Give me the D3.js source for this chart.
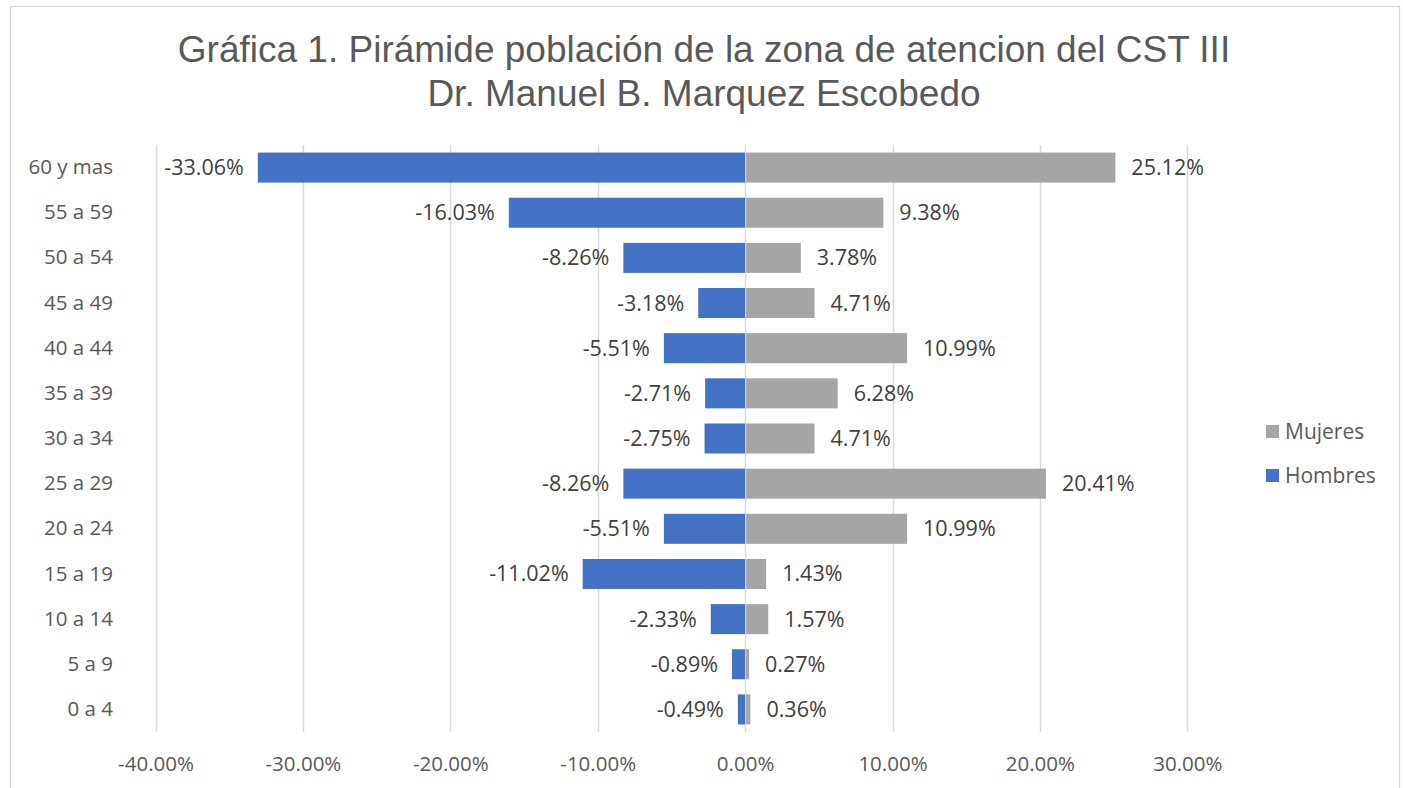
<!DOCTYPE html>
<html><head><meta charset="utf-8">
<script src="https://cdn.jsdelivr.net/npm/d3@7"></script>
<style>body{margin:0;background:#fff}svg{display:block}</style>
</head><body>
<script>
const categories = ["60 y mas","55 a 59","50 a 54","45 a 49","40 a 44","35 a 39","30 a 34","25 a 29","20 a 24","15 a 19","10 a 14","5 a 9","0 a 4"];
const hombres = [-33.06,-16.03,-8.26,-3.18,-5.51,-2.71,-2.75,-8.26,-5.51,-11.02,-2.33,-0.89,-0.49];
const mujeres = [25.12,9.38,3.78,4.71,10.99,6.28,4.71,20.41,10.99,1.43,1.57,0.27,0.36];
const xTicks = [-40,-30,-20,-10,0,10,20,30];
const titleLines = ["Gráfica 1. Pirámide población de la zona de atencion del CST III","Dr. Manuel B. Marquez Escobedo"];
const seriesNames = ["Mujeres","Hombres"];
const colors = {Hombres:"#4472C4", Mujeres:"#A5A5A5"};

const W=1403,H=788;
const svg=d3.select("body").append("svg").attr("width",W).attr("height",H);
svg.append("rect").attr("x",10.5).attr("y",6.5).attr("width",1389).attr("height",H+10)
  .attr("fill","#fff").attr("stroke","#d9d9d9").attr("stroke-width",1.3);

const x=d3.scaleLinear().domain([-40,30]).range([155.5,1187.3]);
const y=d3.scaleBand().domain(categories).range([145,732]).paddingInner(0.335).paddingOuter(0.1675);
const font="'Open Sans', sans-serif";
const txt="#595959";

svg.append("g").selectAll("text").data(titleLines).join("text")
  .attr("x",704).attr("y",(d,i)=>62+i*44).attr("text-anchor","middle")
  .attr("font-family","'Liberation Sans', Arial, sans-serif").attr("font-size",37).attr("fill",txt).text(d=>d);

// gridlines
svg.append("g").selectAll("line").data(xTicks).join("line")
  .attr("x1",d=>Math.round(x(d))+0.5).attr("x2",d=>Math.round(x(d))+0.5).attr("y1",145).attr("y2",732)
  .attr("stroke","#d9d9d9").attr("stroke-width",1.5);

// x axis labels
const xAxis=d3.axisBottom(x).tickValues(xTicks).tickSize(0).tickPadding(0).tickFormat(d=>d.toFixed(2)+"%");
const gx=svg.append("g").attr("transform","translate(0,756)").call(xAxis);
gx.select(".domain").remove();
gx.selectAll("text").attr("font-family",font).attr("font-size",20.5).attr("fill",txt).attr("dy","0.71em");

// y labels
const yAxis=d3.axisLeft(y).tickSize(0).tickPadding(0);
const gy=svg.append("g").attr("transform","translate(113,0)").call(yAxis);
gy.select(".domain").remove();
gy.selectAll("text").attr("font-family",font).attr("font-size",20.5).attr("fill",txt);

// bars
const rows=categories.map((c,i)=>({c,h:hombres[i],m:mujeres[i]}));
svg.append("g").selectAll("rect").data(rows).join("rect")
  .attr("x",d=>x(d.h)).attr("width",d=>x(0)-x(d.h)).attr("y",d=>y(d.c)).attr("height",y.bandwidth())
  .attr("fill",colors.Hombres);
svg.append("g").selectAll("rect").data(rows).join("rect")
  .attr("x",x(0)+1).attr("width",d=>x(d.m)-x(0)-1).attr("y",d=>y(d.c)).attr("height",y.bandwidth())
  .attr("fill",colors.Mujeres);

// labels
svg.append("g").selectAll("text").data(rows).join("text")
  .attr("x",d=>x(d.h)-14).attr("y",d=>y(d.c)+y.bandwidth()/2).attr("dy","0.35em").attr("text-anchor","end")
  .attr("font-family",font).attr("font-size",21.5).attr("fill","#404040").text(d=>d.h.toFixed(2)+"%");
svg.append("g").selectAll("text").data(rows).join("text")
  .attr("x",d=>x(d.m)+16).attr("y",d=>y(d.c)+y.bandwidth()/2).attr("dy","0.35em").attr("text-anchor","start")
  .attr("font-family",font).attr("font-size",21.5).attr("fill","#404040").text(d=>d.m.toFixed(2)+"%");

// legend
const lg=svg.append("g").selectAll("g").data(seriesNames).join("g")
  .attr("transform",(d,i)=>`translate(1266,${432+i*44})`);
lg.append("rect").attr("x",0).attr("y",-7).attr("width",13).attr("height",13).attr("fill",d=>colors[d]);
lg.append("text").attr("x",19).attr("y",0).attr("dy","0.35em").attr("font-family",font).attr("font-size",21).attr("fill",txt).text(d=>d);
</script>
</body></html>
